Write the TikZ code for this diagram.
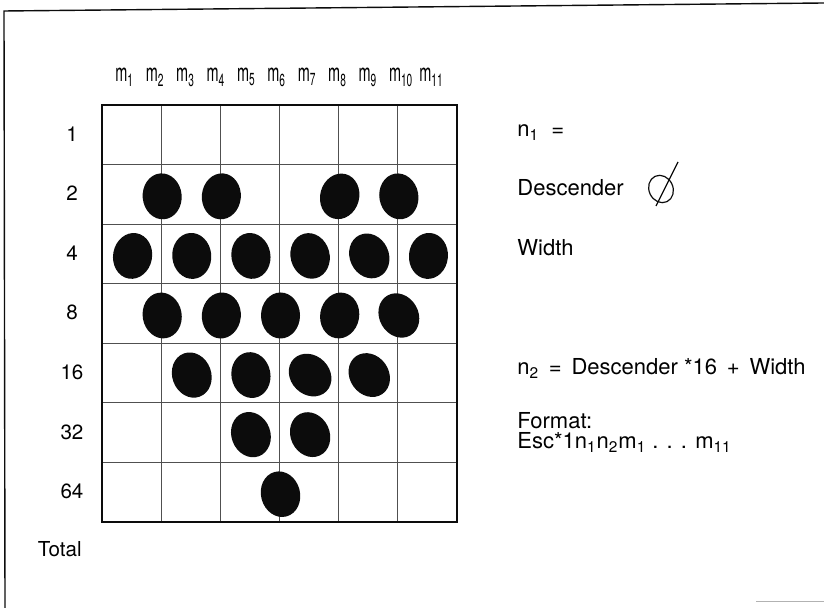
\documentclass[tikz,border=0pt]{standalone}
\usepackage{fontspec}
\setmainfont{TeX Gyre Heros}
\newfontfamily\narrowfont[FakeStretch=0.58]{TeX Gyre Heros}
\usetikzlibrary{
  shapes.geometric,
  positioning
}
\definecolor{inkblack}{RGB}{12,12,12}
\definecolor{rulegray}{RGB}{80,80,80}

\begin{document}
\begin{tikzpicture}[
  x=0.5pt, y=-0.5pt,
  dot/.style={ellipse, fill=inkblack, inner sep=0pt,
              minimum width=19.5pt, minimum height=23pt},
  rowlbl/.style={anchor=base, inner sep=0pt, font=\fontsize{10.3}{12}\selectfont},
  collbl/.style={anchor=base west, inner sep=0pt, font=\narrowfont\fontsize{12.5}{13}\selectfont},
  txt/.style={anchor=base west, inner sep=0pt, font=\fontsize{11}{13}\selectfont},
  gridline/.style={line width=0.45pt, rulegray},
  gridframe/.style={line width=1pt, inkblack}
]
  \useasboundingbox (0,0) rectangle (824,608);
  \def\cw{59.17}
  \def\rh{59.57}

  % page frame
  \draw[line width=0.7pt, inkblack] (824,3) -- (4,11) -- (5,608);
  \draw[line width=0.5pt, gray!60] (756,601) -- (824,601);

  % grid
  \foreach \i in {1,...,5}
    \draw[gridline] (102+\i*\cw,105) -- (102+\i*\cw,522);
  \foreach \j in {1,...,6}
    \draw[gridline] (102,105+\j*\rh) -- (457,105+\j*\rh);
  \draw[gridframe] (102,105) rectangle (457,522);

  % column and row labels
  \foreach \k in {1,...,11}
    \node[collbl] (m\k) at (115+30.4*\k-30.4,82) {m\textsubscript{\k}};
  \foreach \v [count=\r] in {1,2,4,8,16,32,64}
    \node[rowlbl] (w\v) at (72,105+\r*\rh-0.5*\rh+6.5) {\v};
  \node[rowlbl, anchor=base east] (total) at (82,557) {Total};

  % dots: column k / row r / tilt
  \foreach \k/\r/\a in {2/2/5, 4/2/-5, 8/2/-15, 10/2/10,
                        1/3/-10, 3/3/5, 5/3/10, 7/3/15, 9/3/25, 11/3/-5,
                        2/4/10, 4/4/-5, 6/4/0, 8/4/-10, 10/4/30,
                        3/5/20, 5/5/10, 7/5/45, 9/5/35,
                        5/6/20, 7/6/25,
                        6/7/15}
    \node[dot, rotate=\a] (d\k-\r) at (102+\k*\cw/2+1,105+\r*\rh-0.5*\rh+2) {};

  % notes on the right
  \node[txt] (n1) at (517,137) {n\textsubscript{1} \ =};
  \node[txt] (desc) at (517,196) {Descender};
  \node[txt] (wid) at (517,256) {Width};
  \node[txt] (n2) at (517,375) {n\textsubscript{2}\, = \,Descender *16 \,+ \,Width};
  \node[txt] (fmt) at (517,429) {Format:};
  \node[txt] (esc) at (517,449) {Esc*1n\textsubscript{1}n\textsubscript{2}m\textsubscript{1} . . . m\textsubscript{11}};

  % hand drawn zero
  \draw[line width=0.6pt, inkblack, rotate around={25:(661,189)}]
    (661,189) ellipse [x radius=12, y radius=14];
  \draw[line width=0.6pt, inkblack] (656,206) -- (678,162);
\end{tikzpicture}
\end{document}
